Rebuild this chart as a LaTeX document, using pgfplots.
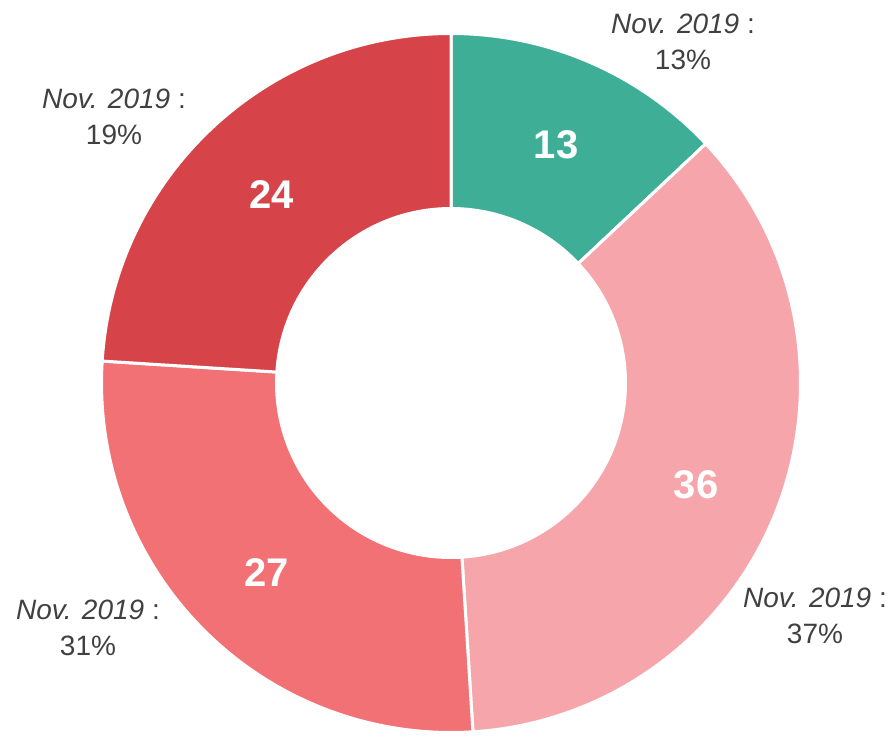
\documentclass[border=0pt]{standalone}
\usepackage{pgfplots}
\pgfplotsset{compat=1.18}
\usepackage{pgfplotstable}
\usepackage{fontspec}
\setmainfont{Liberation Sans}

\definecolor{segA}{HTML}{3EAF96}
\definecolor{segB}{HTML}{F6A6AA}
\definecolor{segC}{HTML}{F27175}
\definecolor{segD}{HTML}{D6444A}
\definecolor{lbl}{HTML}{404040}

% share now (%), share in Nov. 2019 (%)
\pgfplotstableread{
now nov
13 13
36 37
27 31
24 19
}\shares

\tikzset{
  donutseg/.style={draw=white,line width=1.5pt,line join=miter},
  numlbl/.style={text=white,font=\fontsize{20}{24}\selectfont\bfseries},
  outlbl/.style={text=lbl,align=center,font=\fontsize{14}{18}\selectfont},
}
\newcommand\seg[3]{%
  \fill[donutseg,fill=#1] ([shift={(#2:\Ro)}]axis cs:451,383)
    arc[start angle=#2,end angle=#3,radius=\Ro]
    -- ([shift={(#3:\Ri)}]axis cs:451,383)
    arc[start angle=#3,end angle=#2,radius=\Ri] -- cycle;}

\begin{document}
\begin{tikzpicture}
  \pgfplotstablegetelem{0}{now}\of\shares \edef\vA{\pgfplotsretval}
  \pgfplotstablegetelem{1}{now}\of\shares \edef\vB{\pgfplotsretval}
  \pgfplotstablegetelem{2}{now}\of\shares \edef\vC{\pgfplotsretval}
  \pgfplotstablegetelem{3}{now}\of\shares \edef\vD{\pgfplotsretval}
  \pgfplotstablegetelem{0}{nov}\of\shares \edef\nA{\pgfplotsretval}
  \pgfplotstablegetelem{1}{nov}\of\shares \edef\nB{\pgfplotsretval}
  \pgfplotstablegetelem{2}{nov}\of\shares \edef\nC{\pgfplotsretval}
  \pgfplotstablegetelem{3}{nov}\of\shares \edef\nD{\pgfplotsretval}
  % clockwise from 12 o'clock
  \pgfmathsetmacro\aA{90}
  \pgfmathsetmacro\aB{\aA-3.6*\vA}
  \pgfmathsetmacro\aC{\aB-3.6*\vB}
  \pgfmathsetmacro\aD{\aC-3.6*\vC}
  \pgfmathsetmacro\aE{\aD-3.6*\vD}
  \def\Ro{174.75pt}\def\Ri{87.25pt}
  \begin{axis}[
    x=0.5pt,y=0.5pt,
    xmin=0,xmax=894,ymin=0,ymax=731,y dir=reverse,
    hide axis,clip=false,
  ]
    \path (axis cs:0,0) rectangle (axis cs:894,731);
    \seg{segA}{\aA}{\aB}
    \seg{segB}{\aB}{\aC}
    \seg{segC}{\aC}{\aD}
    \seg{segD}{\aD}{\aE}
    \node[numlbl] at (axis cs:556,145) {\vA};
    \node[numlbl] at (axis cs:696,485) {\vB};
    \node[numlbl] at (axis cs:267,573) {\vC};
    \node[numlbl] at (axis cs:272,195) {\vD};
    \node[outlbl] at (axis cs:683,42) {\textit{Nov. 2019} :\\\nA\%};
    \node[outlbl] at (axis cs:815,616) {\textit{Nov. 2019} :\\\nB\%};
    \node[outlbl] at (axis cs:88,628) {\textit{Nov. 2019} :\\\nC\%};
    \node[outlbl] at (axis cs:114,117) {\textit{Nov. 2019} :\\\nD\%};
  \end{axis}
\end{tikzpicture}
\end{document}
